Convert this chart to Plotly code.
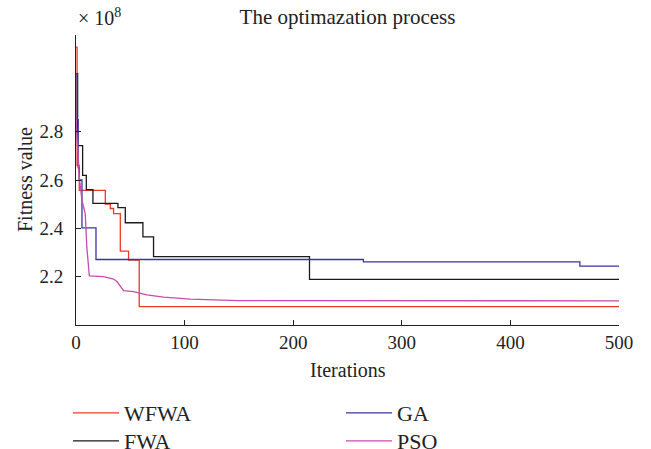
import plotly.graph_objects as go

# Data (fitness values in units of 1e8)
wfwa_x = [0, 1, 3, 27, 31.6, 34.6, 40.8, 48.4, 58.2, 500]
wfwa_y = [3.15, 2.66, 2.557, 2.50, 2.482, 2.461, 2.306, 2.269, 2.076, 2.076]

fwa_x = [0, 1.5, 6.1, 9.5, 15.6, 38.6, 45.4, 61.6, 71.4, 215, 500]
fwa_y = [3.04, 2.742, 2.619, 2.56, 2.503, 2.486, 2.423, 2.365, 2.283, 2.189, 2.189]

ga_x = [0, 1, 2, 3, 5.5, 18.4, 264.6, 464, 500]
ga_y = [3.04, 2.85, 2.65, 2.6, 2.402, 2.271, 2.261, 2.244, 2.244]

pso_x = [0, 2, 3.3, 5.5, 8.5, 10, 12.3, 25.4, 34.6, 37.7, 40.8, 43.8, 53, 65.3, 80.6, 105, 150, 500]
pso_y = [2.85, 2.68, 2.6, 2.516, 2.46, 2.32, 2.203, 2.2, 2.19, 2.18, 2.16, 2.142, 2.138, 2.125, 2.115, 2.107, 2.101, 2.1]

y_ticks = [2.2, 2.4, 2.6, 2.8]
x_ticks = [0, 100, 200, 300, 400, 500]

FONT = "Liberation Serif"
TXT = "#222222"
W, H = 651, 449
L, R, T, B = 76, 32, 35, 124
PW, PH = W - L - R, H - T - B

fig = go.Figure()
fig.add_trace(go.Scatter(x=wfwa_x, y=wfwa_y, mode="lines", name="WFWA",
                         line=dict(color="#EE3A24", width=1.3, shape="hv"), legend="legend"))
fig.add_trace(go.Scatter(x=fwa_x, y=fwa_y, mode="lines", name="FWA",
                         line=dict(color="#1a1a1a", width=1.3, shape="hv"), legend="legend2"))
fig.add_trace(go.Scatter(x=ga_x, y=ga_y, mode="lines", name="GA",
                         line=dict(color="#3A34A0", width=1.3, shape="hv"), legend="legend3"))
fig.add_trace(go.Scatter(x=pso_x, y=pso_y, mode="lines", name="PSO",
                         line=dict(color="#C84BAE", width=1.3), legend="legend4"))

leg_common = dict(orientation="v", xref="container", yref="container", xanchor="left",
                  yanchor="top", traceorder="normal", itemwidth=46,
                  font=dict(family=FONT, size=22, color=TXT), bgcolor="rgba(0,0,0,0)")
ROW1, ROW2 = 392, 420
COL1, COL2 = 68, 341

fig.update_layout(
    width=W, height=H,
    margin=dict(l=L, r=R, t=T, b=B, autoexpand=False),
    paper_bgcolor="white", plot_bgcolor="white",
    font=dict(family=FONT, size=19, color=TXT),
    title=dict(text="The optimazation process", x=(L + W - R) / 2 / W, xanchor="center",
               y=1 - 17 / H, yanchor="middle", font=dict(family=FONT, size=21, color=TXT)),
    xaxis=dict(range=[0, 500], tickvals=x_ticks, ticks="inside", ticklen=5, tickcolor="#222",
               showline=True, linecolor="#222", linewidth=1, showgrid=False, zeroline=False,
               automargin=False, ticklabelstandoff=0, tickfont=dict(size=19)),
    yaxis=dict(range=[2.0, 3.2], tickvals=y_ticks, ticktext=["2.2", "2.4", "2.6", "2.8"],
               ticks="inside", ticklen=5, tickcolor="#222",
               showline=True, linecolor="#222", linewidth=1, showgrid=False, zeroline=False,
               automargin=False, ticklabelstandoff=8, tickfont=dict(size=19)),
    legend=dict(x=COL1 / W, y=1 - ROW1 / H, **leg_common),
    legend2=dict(x=COL1 / W, y=1 - ROW2 / H, **leg_common),
    legend3=dict(x=COL2 / W, y=1 - ROW1 / H, **leg_common),
    legend4=dict(x=COL2 / W, y=1 - ROW2 / H, **leg_common),
    showlegend=True,
)

fig.add_annotation(text="× 10<sup>8</sup>", xref="paper", yref="paper", x=0, y=1,
                   xanchor="left", yanchor="bottom", yshift=4, showarrow=False,
                   font=dict(family=FONT, size=20, color=TXT))
fig.add_annotation(text="Fitness value", xref="paper", yref="paper",
                   x=(25 - L) / PW, y=0.5, xanchor="center", yanchor="middle",
                   textangle=-90, showarrow=False, font=dict(family=FONT, size=20, color=TXT))
fig.add_annotation(text="Iterations", xref="paper", yref="paper",
                   x=0.5, y=-(370 - (T + PH)) / PH, xanchor="center", yanchor="middle",
                   showarrow=False, font=dict(family=FONT, size=20, color=TXT))

fig.write_html("out.html", config={"displayModeBar": False},
               post_script="document.body.style.margin='0';")
